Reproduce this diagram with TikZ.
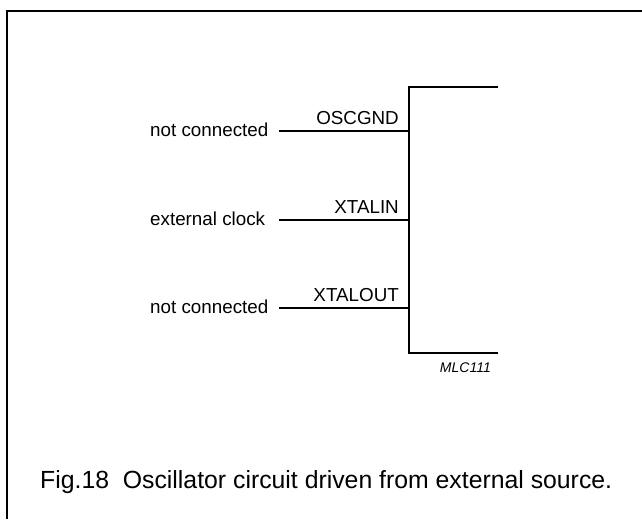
\documentclass[tikz,border=0pt]{standalone}
\usepackage{fontspec}
\setmainfont{Liberation Sans}
\usetikzlibrary{positioning}
\begin{document}
\begin{tikzpicture}[x=1pt, y=-1pt, line join=miter, line cap=butt]
			\tikzset{frame/.style={line width=1.5pt},
				icbody/.style={line width=2.7pt},
				pinline/.style={line width=1.3pt},
				lbl/.style={inner sep=0pt, font=\fontsize{18.8}{20}\selectfont},
				pinname/.style={inner sep=0pt, font=\fontsize{18.8}{20}\selectfont},
				code/.style={inner sep=0pt, font=\fontsize{14}{15}\selectfont\itshape},
				caption/.style={inner sep=0pt, font=\fontsize{24.8}{27}\selectfont}}
			\useasboundingbox (0,0) rectangle (642,519);
			\draw[frame] (7,519)--(7,11)--(642,11);
			% IC outline
			\draw[icbody] (498,87)--(409,87)--(409,353)--(498,353);
			\foreach \n/\y/\pin/\txt in {A/131/OSCGND/not connected, B/220/XTALIN/external clock, C/308/XTALOUT/not connected}{
				\coordinate (s\n) at (279,\y);
				\coordinate (p\n) at (409,\y);
				\draw[pinline] (s\n)--(p\n);
				\node[lbl, anchor=base west] (l\n) at (150,\y+5.5) {\txt};
				\node[pinname, anchor=base east] (n\n) at (399,\y-6.5) {\pin};
			}
			\node[code, anchor=base east] (mlc) at (491,372) {MLC111};
			\node[caption, anchor=base west] (cap) at (40,488) {Fig.18\ \ Oscillator circuit driven from external source.};
		\end{tikzpicture}
\end{document}
